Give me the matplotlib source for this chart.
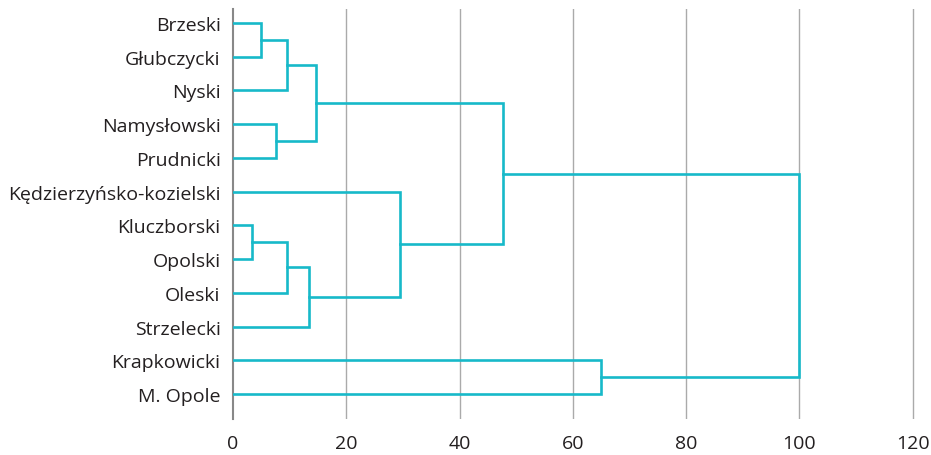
import numpy as np
import matplotlib.pyplot as plt

# leaves in display order (top to bottom)
leaves = ["Brzeski", "Głubczycki", "Nyski", "Namysłowski", "Prudnicki",
          "Kędzierzyńsko-kozielski", "Kluczborski", "Opolski", "Oleski",
          "Strzelecki", "Krapkowicki", "M. Opole"]

# linkage: child a, child b, distance (new cluster ids start at len(leaves))
link_a = [0, 12, 3, 13, 6, 16, 17, 5, 15, 10, 20]
link_b = [1, 2, 4, 14, 7, 8, 9, 18, 19, 11, 21]
link_h = [5.0, 9.5, 7.6, 14.6, 3.4, 9.5, 13.4, 29.5, 47.6, 65.0, 100.0]

xticks = [0, 20, 40, 60, 80, 100, 120]

plt.rcParams['font.family'] = ['Open Sans', 'DejaVu Sans']
color = '#17b9c9'

fig = plt.figure(figsize=(9.31, 4.56), dpi=100)
ax = fig.add_axes([233/931, 1-420/456, (915-233)/931, 410/456])

pos = {i: (0.0, float(i)) for i in range(len(leaves))}
for k in range(len(link_h)):
    ha, ya = pos[link_a[k]]
    hb, yb = pos[link_b[k]]
    H = link_h[k]
    ax.plot([ha, H, H, hb], [ya, ya, yb, yb], color=color, lw=1.9,
            solid_joinstyle='miter', zorder=3)
    pos[len(leaves)+k] = (H, (ya+yb)/2)

ax.set_xlim(0, 120.4)
ax.set_ylim(11.74, -0.41)
ax.set_yticks(range(len(leaves)))
ax.set_yticklabels(leaves)
ax.set_xticks(xticks)
ax.tick_params(axis='both', length=0, labelsize=14, colors='#231f20')
ax.tick_params(axis='y', pad=9)
ax.tick_params(axis='x', pad=11)
for lab in ax.get_yticklabels() + ax.get_xticklabels():
    lab.set_color('#231f20')
for x in xticks[1:]:
    ax.axvline(x, color='#aaaaaa', lw=1.0, zorder=1)
for s in ['top', 'right', 'bottom']:
    ax.spines[s].set_visible(False)
ax.spines['left'].set_color('#888888')
ax.spines['left'].set_linewidth(1.5)

fig.savefig('out.png', dpi=100)
